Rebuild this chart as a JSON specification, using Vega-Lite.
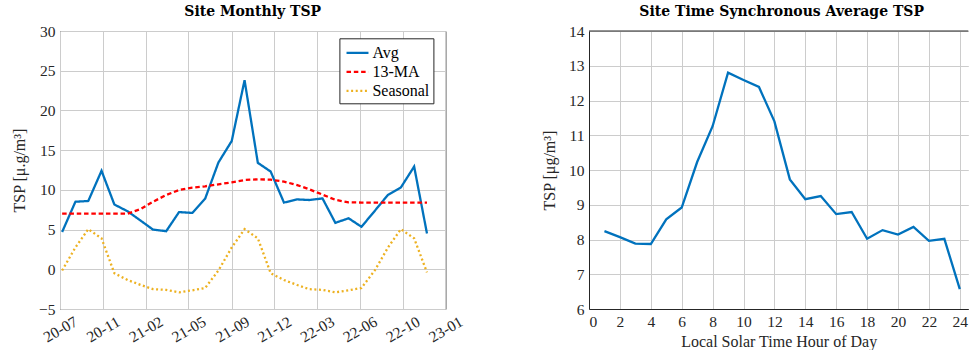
{
  "$schema": "https://vega.github.io/schema/vega-lite/v6.json",
  "background": "white",
  "padding": {"left": 11, "top": 4, "right": 0, "bottom": 0},
  "bounds": "flush",
  "spacing": 143,
  "config": {
    "font": "Liberation Serif",
    "style": {"guide-label": {"font": "Liberation Serif"}, "guide-title": {"font": "Liberation Serif"}},
    "axis": {
      "labelFont": "Liberation Serif", "labelFontSize": 15.5, "labelColor": "#262626", "labelOverlap": false,
      "titleFont": "Liberation Serif", "titleFontSize": 16, "titleFontWeight": "normal", "titleColor": "#262626",
      "gridColor": "#cccccc", "gridWidth": 1, "domainColor": "#262626", "domainWidth": 1, "ticks": false
    },
    "title": {"font": "DejaVu Serif", "fontSize": 14, "fontWeight": "bold", "color": "#000000", "baseline": "alphabetic", "offset": 5}
  },
  "hconcat": [
    {
      "width": 385.4,
      "height": 278,
      "title": {"text": "Site Monthly TSP"},
      "view": {"stroke": "#262626", "strokeWidth": 1},
      "data": {"values": [
        {"date": "2020-07-31", "series": "Avg", "value": 4.7},
        {"date": "2020-08-31", "series": "Avg", "value": 8.5},
        {"date": "2020-09-30", "series": "Avg", "value": 8.6},
        {"date": "2020-10-31", "series": "Avg", "value": 12.4},
        {"date": "2020-11-30", "series": "Avg", "value": 8.15},
        {"date": "2020-12-31", "series": "Avg", "value": 7.3},
        {"date": "2021-01-31", "series": "Avg", "value": 6.1},
        {"date": "2021-02-28", "series": "Avg", "value": 5.0},
        {"date": "2021-03-31", "series": "Avg", "value": 4.8},
        {"date": "2021-04-30", "series": "Avg", "value": 7.2},
        {"date": "2021-05-31", "series": "Avg", "value": 7.1},
        {"date": "2021-06-30", "series": "Avg", "value": 8.9},
        {"date": "2021-07-31", "series": "Avg", "value": 13.45},
        {"date": "2021-08-31", "series": "Avg", "value": 16.15},
        {"date": "2021-09-30", "series": "Avg", "value": 23.8},
        {"date": "2021-10-31", "series": "Avg", "value": 13.4},
        {"date": "2021-11-30", "series": "Avg", "value": 12.3},
        {"date": "2021-12-31", "series": "Avg", "value": 8.4},
        {"date": "2022-01-31", "series": "Avg", "value": 8.8},
        {"date": "2022-02-28", "series": "Avg", "value": 8.72},
        {"date": "2022-03-31", "series": "Avg", "value": 8.92},
        {"date": "2022-04-30", "series": "Avg", "value": 5.85},
        {"date": "2022-05-31", "series": "Avg", "value": 6.42},
        {"date": "2022-06-30", "series": "Avg", "value": 5.35},
        {"date": "2022-07-31", "series": "Avg", "value": 7.35},
        {"date": "2022-08-31", "series": "Avg", "value": 9.38},
        {"date": "2022-09-30", "series": "Avg", "value": 10.3},
        {"date": "2022-10-31", "series": "Avg", "value": 12.93},
        {"date": "2022-11-30", "series": "Avg", "value": 4.5},
        {"date": "2020-07-31", "series": "13-MA", "value": 7.0},
        {"date": "2020-08-31", "series": "13-MA", "value": 7.0},
        {"date": "2020-09-30", "series": "13-MA", "value": 7.0},
        {"date": "2020-10-31", "series": "13-MA", "value": 7.0},
        {"date": "2020-11-30", "series": "13-MA", "value": 7.0},
        {"date": "2020-12-31", "series": "13-MA", "value": 7.0},
        {"date": "2021-01-31", "series": "13-MA", "value": 7.6},
        {"date": "2021-02-28", "series": "13-MA", "value": 8.5},
        {"date": "2021-03-31", "series": "13-MA", "value": 9.35},
        {"date": "2021-04-30", "series": "13-MA", "value": 9.98},
        {"date": "2021-05-31", "series": "13-MA", "value": 10.28},
        {"date": "2021-06-30", "series": "13-MA", "value": 10.45},
        {"date": "2021-07-31", "series": "13-MA", "value": 10.7},
        {"date": "2021-08-31", "series": "13-MA", "value": 10.95},
        {"date": "2021-09-30", "series": "13-MA", "value": 11.24},
        {"date": "2021-10-31", "series": "13-MA", "value": 11.33},
        {"date": "2021-11-30", "series": "13-MA", "value": 11.28},
        {"date": "2021-12-31", "series": "13-MA", "value": 11.04},
        {"date": "2022-01-31", "series": "13-MA", "value": 10.6},
        {"date": "2022-02-28", "series": "13-MA", "value": 10.07},
        {"date": "2022-03-31", "series": "13-MA", "value": 9.4},
        {"date": "2022-04-30", "series": "13-MA", "value": 8.75},
        {"date": "2022-05-31", "series": "13-MA", "value": 8.43},
        {"date": "2022-06-30", "series": "13-MA", "value": 8.4},
        {"date": "2022-07-31", "series": "13-MA", "value": 8.4},
        {"date": "2022-08-31", "series": "13-MA", "value": 8.4},
        {"date": "2022-09-30", "series": "13-MA", "value": 8.4},
        {"date": "2022-10-31", "series": "13-MA", "value": 8.4},
        {"date": "2022-11-30", "series": "13-MA", "value": 8.4},
        {"date": "2020-07-31", "series": "Seasonal", "value": -0.15},
        {"date": "2020-08-31", "series": "Seasonal", "value": 2.75},
        {"date": "2020-09-30", "series": "Seasonal", "value": 5.05},
        {"date": "2020-10-31", "series": "Seasonal", "value": 3.9},
        {"date": "2020-11-30", "series": "Seasonal", "value": -0.5},
        {"date": "2020-12-31", "series": "Seasonal", "value": -1.35},
        {"date": "2021-01-31", "series": "Seasonal", "value": -1.98},
        {"date": "2021-02-28", "series": "Seasonal", "value": -2.5},
        {"date": "2021-03-31", "series": "Seasonal", "value": -2.6},
        {"date": "2021-04-30", "series": "Seasonal", "value": -2.9},
        {"date": "2021-05-31", "series": "Seasonal", "value": -2.65},
        {"date": "2021-06-30", "series": "Seasonal", "value": -2.35},
        {"date": "2021-07-31", "series": "Seasonal", "value": -0.15},
        {"date": "2021-08-31", "series": "Seasonal", "value": 2.75},
        {"date": "2021-09-30", "series": "Seasonal", "value": 5.05},
        {"date": "2021-10-31", "series": "Seasonal", "value": 3.9},
        {"date": "2021-11-30", "series": "Seasonal", "value": -0.5},
        {"date": "2021-12-31", "series": "Seasonal", "value": -1.35},
        {"date": "2022-01-31", "series": "Seasonal", "value": -1.98},
        {"date": "2022-02-28", "series": "Seasonal", "value": -2.5},
        {"date": "2022-03-31", "series": "Seasonal", "value": -2.6},
        {"date": "2022-04-30", "series": "Seasonal", "value": -2.9},
        {"date": "2022-05-31", "series": "Seasonal", "value": -2.65},
        {"date": "2022-06-30", "series": "Seasonal", "value": -2.35},
        {"date": "2022-07-31", "series": "Seasonal", "value": -0.15},
        {"date": "2022-08-31", "series": "Seasonal", "value": 2.75},
        {"date": "2022-09-30", "series": "Seasonal", "value": 5.05},
        {"date": "2022-10-31", "series": "Seasonal", "value": 3.9},
        {"date": "2022-11-30", "series": "Seasonal", "value": -0.4}
      ]},
      "mark": {"type": "line", "strokeWidth": 2.3},
      "encoding": {
        "x": {
          "field": "date", "type": "temporal",
          "scale": {"type": "utc", "domain": [
            {"year": 2020, "month": 7, "date": 26, "utc": true},
            {"year": 2023, "month": 1, "date": 12, "utc": true}
          ]},
          "axis": {
            "title": null, "domain": false, "format": "%y-%m",
            "labelFont": "Liberation Serif", "labelFontSize": 15.5, "labelOverlap": false,
            "values": [
              {"year": 2020, "month": 7, "date": 26, "utc": true},
              {"year": 2020, "month": 11, "date": 3, "utc": true},
              {"year": 2021, "month": 2, "date": 11, "utc": true},
              {"year": 2021, "month": 5, "date": 22, "utc": true},
              {"year": 2021, "month": 9, "date": 1, "utc": true},
              {"year": 2021, "month": 12, "date": 8, "utc": true},
              {"year": 2022, "month": 3, "date": 18, "utc": true},
              {"year": 2022, "month": 6, "date": 26, "utc": true},
              {"year": 2022, "month": 10, "date": 4, "utc": true},
              {"year": 2023, "month": 1, "date": 12, "utc": true}
            ],
            "labelAngle": -30, "labelAlign": "center", "labelBaseline": "middle", "labelPadding": 20
          }
        },
        "y": {
          "field": "value", "type": "quantitative",
          "scale": {"domain": [-5, 30], "nice": false, "zero": false},
          "axis": {"values": [-5, 0, 5, 10, 15, 20, 25, 30], "title": "TSP [μ.g/m³]", "titlePadding": 11, "labelPadding": 5, "domain": false, "labelFont": "Liberation Serif", "labelFontSize": 15.5, "labelOverlap": false}
        },
        "color": {
          "field": "series", "type": "nominal",
          "scale": {"domain": ["Avg", "13-MA", "Seasonal"], "range": ["#0072BD", "#FF0000", "#EDB120"]},
          "legend": {"title": null, "orient": "none", "legendX": 279.4, "legendY": 7.3, "symbolType": "M-0.82,0L1.62,0", "symbolSize": 324, "symbolStrokeWidth": 2.3, "labelFont": "Liberation Serif", "labelFontSize": 16, "labelColor": "#000000", "labelOffset": 8, "rowPadding": 0, "padding": 4, "strokeColor": "#262626", "fillColor": "#ffffff"}
        },
        "strokeDash": {
          "field": "series", "type": "nominal",
          "scale": {"domain": ["Avg", "13-MA", "Seasonal"], "range": [[1, 0], [4.5, 2.8], [2, 2.6]]},
          "legend": {"title": null, "orient": "none", "legendX": 279.4, "legendY": 7.3, "symbolType": "M-0.82,0L1.62,0", "symbolSize": 324, "symbolStrokeWidth": 2.3, "labelFont": "Liberation Serif", "labelFontSize": 16, "labelColor": "#000000", "labelOffset": 8, "rowPadding": 0, "padding": 4, "strokeColor": "#262626", "fillColor": "#ffffff"}
        }
      }
    },
    {
      "width": 379.3,
      "height": 278,
      "title": {"text": "Site Time Synchronous Average TSP", "dx": 3},
      "view": {"stroke": null},
      "layer": [
        {
          "data": {"values": [
            {"hour": 1, "tsp": 8.24}, {"hour": 2, "tsp": 8.07}, {"hour": 3, "tsp": 7.88}, {"hour": 4, "tsp": 7.87},
            {"hour": 5, "tsp": 8.58}, {"hour": 6, "tsp": 8.92}, {"hour": 7, "tsp": 10.23}, {"hour": 8, "tsp": 11.26},
            {"hour": 9, "tsp": 12.8}, {"hour": 10, "tsp": 12.59}, {"hour": 11, "tsp": 12.39}, {"hour": 12, "tsp": 11.4},
            {"hour": 13, "tsp": 9.73}, {"hour": 14, "tsp": 9.16}, {"hour": 15, "tsp": 9.25}, {"hour": 16, "tsp": 8.73},
            {"hour": 17, "tsp": 8.79}, {"hour": 18, "tsp": 8.02}, {"hour": 19, "tsp": 8.27}, {"hour": 20, "tsp": 8.14},
            {"hour": 21, "tsp": 8.36}, {"hour": 22, "tsp": 7.96}, {"hour": 23, "tsp": 8.02}, {"hour": 24, "tsp": 6.57}
          ]},
          "mark": {"type": "line", "color": "#0072BD", "strokeWidth": 2.3},
          "encoding": {
            "x": {
              "field": "hour", "type": "quantitative",
              "scale": {"domain": [0, 24.55], "nice": false, "zero": false},
              "axis": {"values": [0, 2, 4, 6, 8, 10, 12, 14, 16, 18, 20, 22, 24], "title": "Local Solar Time Hour of Day", "labelPadding": 5, "titlePadding": 4, "labelFont": "Liberation Serif", "labelFontSize": 15.5, "labelOverlap": false}
            },
            "y": {
              "field": "tsp", "type": "quantitative",
              "scale": {"domain": [6, 14], "nice": false, "zero": false},
              "axis": {"values": [6, 7, 8, 9, 10, 11, 12, 13, 14], "title": "TSP [μg/m³]", "titlePadding": 11, "labelPadding": 5, "labelFont": "Liberation Serif", "labelFontSize": 15.5, "labelOverlap": false}
            }
          }
        },
        {
          "data": {"values": [{"top": 14}]},
          "mark": {"type": "rule", "color": "#262626", "strokeWidth": 1},
          "encoding": {"y": {
            "field": "top", "type": "quantitative",
            "scale": {"domain": [6, 14], "nice": false, "zero": false},
            "axis": {"values": [6, 7, 8, 9, 10, 11, 12, 13, 14], "title": "TSP [μg/m³]", "titlePadding": 11, "labelPadding": 5, "labelFont": "Liberation Serif", "labelFontSize": 15.5, "labelOverlap": false}
          }}
        }
      ]
    }
  ]
}
